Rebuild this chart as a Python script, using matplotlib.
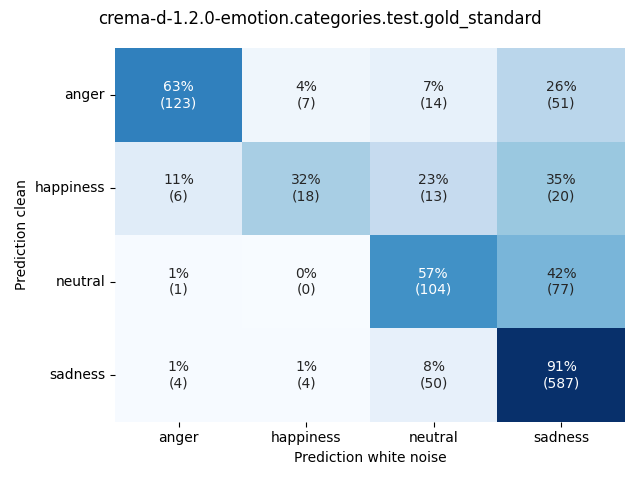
import matplotlib
matplotlib.use('Agg')
import matplotlib.pyplot as plt
import numpy as np
import seaborn as sns

labels = ['anger', 'happiness', 'neutral', 'sadness']

# counts: rows = prediction clean, columns = prediction white noise
anger_row = [123, 7, 14, 51]
happiness_row = [6, 18, 13, 20]
neutral_row = [1, 0, 104, 77]
sadness_row = [4, 4, 50, 587]

counts = np.array([anger_row, happiness_row, neutral_row, sadness_row])
perc = counts / counts.sum(axis=1, keepdims=True)

annot = np.empty(counts.shape, dtype=object)
for i in range(counts.shape[0]):
    for j in range(counts.shape[1]):
        annot[i, j] = f'{perc[i, j] * 100:.0f}%\n({counts[i, j]})'

fig, ax = plt.subplots(figsize=(6.4, 4.8), dpi=100)
sns.heatmap(perc, annot=annot, fmt='', cmap='Blues', cbar=False,
            xticklabels=labels, yticklabels=labels, ax=ax)
ax.set_yticklabels(labels, rotation=0)
ax.set_xlabel('Prediction white noise')
ax.set_ylabel('Prediction clean')
fig.suptitle('crema-d-1.2.0-emotion.categories.test.gold_standard')
fig.tight_layout()
fig.savefig('out.png')
